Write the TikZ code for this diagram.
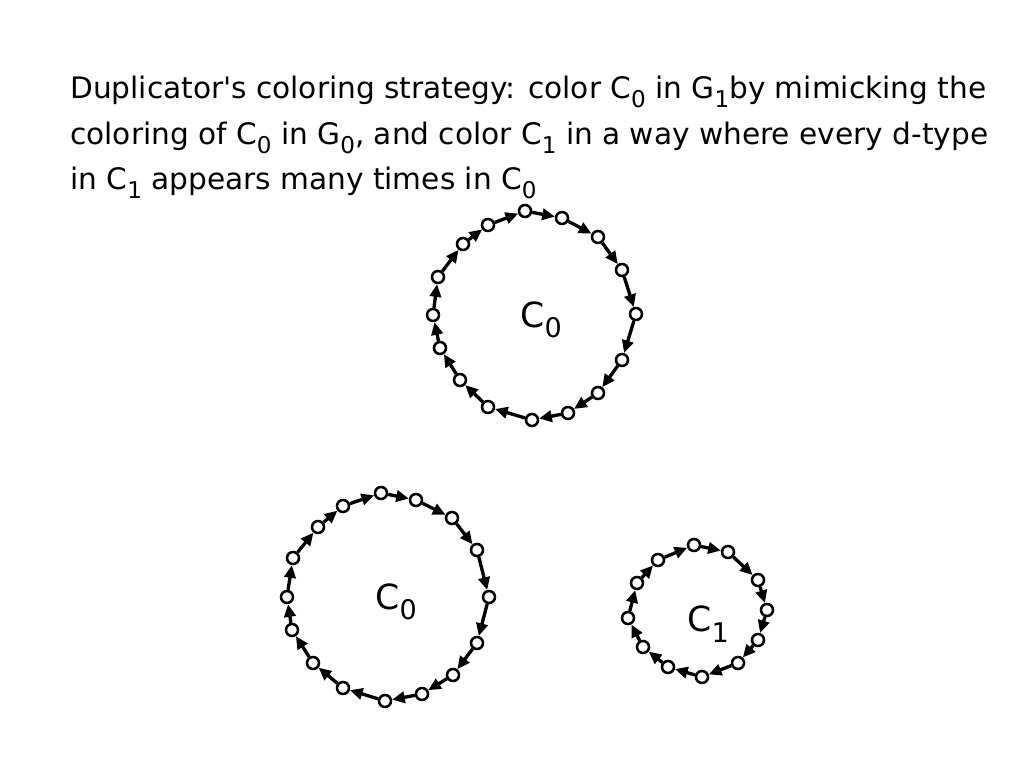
\documentclass[tikz,border=0pt]{standalone}
\usepackage{fontspec}
\setmainfont{DejaVu Sans}[Ligatures=TeXOff]
\usepackage{tikz}
\usetikzlibrary{positioning, arrows.meta}

\newcommand{\lowsub}[1]{\raisebox{-0.3em}{\scalebox{0.78}{#1}}}

\tikzset{
    dot/.style={circle, draw=black, line width=1.9pt, fill=white, inner sep=0pt, minimum size=9pt},
    arc/.style={line width=2.5pt, -{Triangle[length=9.5pt, width=8.5pt]}},
    txt/.style={anchor=base west, inner sep=0pt, font=\fontsize{22.2}{26}\selectfont},
    cyclelabel/.style={inner sep=0pt, font=\fontsize{26}{30}\selectfont}
}

\begin{document}
\begin{tikzpicture}[x=0.75pt, y=0.75pt]
            \useasboundingbox (0, 0) rectangle (1024, 768);

            \node[txt] (line1) at (70, 669) {Duplicator's coloring strategy: color C\lowsub{0} in G\lowsub{1}by mimicking the};
            \node[txt] (line2) at (70, 623) {coloring of C\lowsub{0} in G\lowsub{0}, and color C\lowsub{1} in a way where every d-type};
            \node[txt] (line3) at (70, 578) {in C\lowsub{1} appears many times in C\lowsub{0}};

            % top copy of C0
            \node[dot] (t1) at (525, 557) {};
            \node[dot] (t2) at (562, 550) {};
            \node[dot] (t3) at (598, 531) {};
            \node[dot] (t4) at (622, 498) {};
            \node[dot] (t5) at (636, 454) {};
            \node[dot] (t6) at (622, 408) {};
            \node[dot] (t7) at (598, 375) {};
            \node[dot] (t8) at (568, 355) {};
            \node[dot] (t9) at (532, 348) {};
            \node[dot] (t10) at (488, 361) {};
            \node[dot] (t11) at (460, 388) {};
            \node[dot] (t12) at (440, 420) {};
            \node[dot] (t13) at (433, 453) {};
            \node[dot] (t14) at (438, 491) {};
            \node[dot] (t15) at (463, 524) {};
            \node[dot] (t16) at (488, 543) {};
            \node[cyclelabel] (topname) at (541, 448) {C\lowsub{0}};

            \path[arc] (t1) edge (t2) (t2) edge (t3) (t3) edge (t4) (t4) edge (t5)
                (t5) edge (t6) (t6) edge (t7) (t7) edge (t8) (t8) edge (t9)
                (t9) edge (t10) (t10) edge (t11) (t11) edge (t12) (t12) edge (t13)
                (t13) edge (t14) (t14) edge (t15) (t15) edge (t16) (t16) edge (t1);

            % bottom copy of C0
            \node[dot] (b1) at (381, 275) {};
            \node[dot] (b2) at (416, 268) {};
            \node[dot] (b3) at (452, 250) {};
            \node[dot] (b4) at (477, 218) {};
            \node[dot] (b5) at (489, 171) {};
            \node[dot] (b6) at (477, 125) {};
            \node[dot] (b7) at (453, 93) {};
            \node[dot] (b8) at (422, 74) {};
            \node[dot] (b9) at (385, 67) {};
            \node[dot] (b10) at (343, 80) {};
            \node[dot] (b11) at (313, 105) {};
            \node[dot] (b12) at (292, 138) {};
            \node[dot] (b13) at (287, 171) {};
            \node[dot] (b14) at (293, 210) {};
            \node[dot] (b15) at (318, 241) {};
            \node[dot] (b16) at (343, 262) {};
            \node[cyclelabel] (botname) at (396, 166) {C\lowsub{0}};

            \path[arc] (b1) edge (b2) (b2) edge (b3) (b3) edge (b4) (b4) edge (b5)
                (b5) edge (b6) (b6) edge (b7) (b7) edge (b8) (b8) edge (b9)
                (b9) edge (b10) (b10) edge (b11) (b11) edge (b12) (b12) edge (b13)
                (b13) edge (b14) (b14) edge (b15) (b15) edge (b16) (b16) edge (b1);

            % C1
            \node[dot] (s1) at (694, 223) {};
            \node[dot] (s2) at (728, 216) {};
            \node[dot] (s3) at (758, 188) {};
            \node[dot] (s4) at (767, 158) {};
            \node[dot] (s5) at (758, 128) {};
            \node[dot] (s6) at (738, 105) {};
            \node[dot] (s7) at (702, 91) {};
            \node[dot] (s8) at (668, 101) {};
            \node[dot] (s9) at (643, 121) {};
            \node[dot] (s10) at (628, 150) {};
            \node[dot] (s11) at (637, 185) {};
            \node[dot] (s12) at (658, 208) {};
            \node[cyclelabel] (smallname) at (708, 144) {C\lowsub{1}};

            \path[arc] (s1) edge (s2) (s2) edge (s3) (s3) edge (s4) (s4) edge (s5)
                (s5) edge (s6) (s6) edge (s7) (s7) edge (s8) (s8) edge (s9)
                (s9) edge (s10) (s10) edge (s11) (s11) edge (s12) (s12) edge (s1);
        \end{tikzpicture}
\end{document}
